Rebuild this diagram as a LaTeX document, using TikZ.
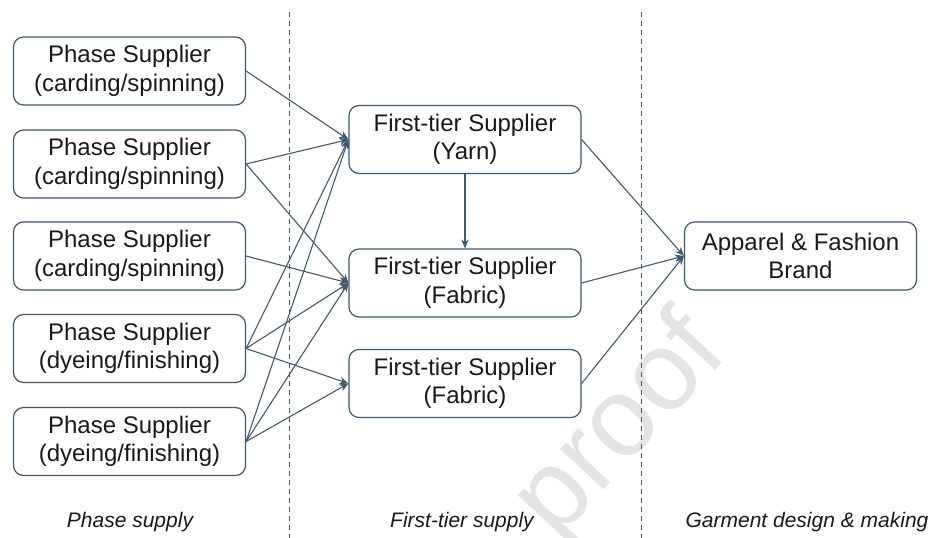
\documentclass[tikz,border=0pt]{standalone}
\usepackage{fontspec}
\setmainfont{Liberation Sans}
\usetikzlibrary{arrows.meta}
\definecolor{linec}{RGB}{66,88,108}
\definecolor{wmark}{RGB}{228,228,228}
\tikzset{
  box/.style={draw=linec, line width=1.2pt, rounded corners=10pt, minimum width=232pt,
    minimum height=68pt, inner sep=0pt, align=center, text=black!90,
    font=\fontsize{24}{28.5}\selectfont},
  conn/.style={draw=linec, line width=1.1pt, -{Stealth[length=9pt,width=7.5pt]}},
  sep/.style={draw=linec, line width=1pt, dash pattern=on 5pt off 4pt},
  phase/.style={font=\fontsize{21}{25}\selectfont\itshape, text=black!90, inner sep=0pt},
  wm/.style={font=\fontsize{112}{120}\selectfont, text=wmark, inner sep=0pt}
}
\begin{document}
\begin{tikzpicture}[x=1pt,y=-1pt]
\useasboundingbox (0,0) rectangle (930,538);
% watermark
\node[wm, rotate=47] (wmk) at (622,428) {proof};
% separators
\coordinate (s1t) at (289,12); \coordinate (s1b) at (289,538);
\coordinate (s2t) at (641,12); \coordinate (s2b) at (641,538);
\draw[sep] (s1t) -- (s1b);
\draw[sep] (s2t) -- (s2b);
% left column
\node[box] (L1) at (129.5,71) {Phase Supplier\\(carding/spinning)};
\node[box] (L2) at (129.5,164) {Phase Supplier\\(carding/spinning)};
\node[box] (L3) at (129.5,256) {Phase Supplier\\(carding/spinning)};
\node[box] (L4) at (129.5,348.5) {Phase Supplier\\(dyeing/finishing)};
\node[box] (L5) at (129.5,441.5) {Phase Supplier\\(dyeing/finishing)};
% middle column
\node[box] (M1) at (465,139.5) {First-tier Supplier\\(Yarn)};
\node[box] (M2) at (465,283) {First-tier Supplier\\(Fabric)};
\node[box] (M3) at (465,383.5) {First-tier Supplier\\(Fabric)};
% right
\node[box] (B) at (800.5,256) {Apparel \& Fashion\\Brand};
% connectors
\draw[conn] (L1.east) -- (M1.west);
\draw[conn] (L2.east) -- (M1.west);
\draw[conn] (L2.east) -- (M2.west);
\draw[conn] (L3.east) -- (M2.west);
\draw[conn] (L4.east) -- (M1.west);
\draw[conn] (L4.east) -- (M2.west);
\draw[conn] (L4.east) -- (M3.west);
\draw[conn] (L5.east) -- (M1.west);
\draw[conn] (L5.east) -- (M2.west);
\draw[conn] (L5.east) -- (M3.west);
\draw[conn] (M1.south) -- (M2.north);
\draw[conn] (M1.east) -- (B.west);
\draw[conn] (M2.east) -- (B.west);
\draw[conn] (M3.east) -- (B.west);
% phase labels
\node[phase] (p1) at (130,522) {Phase supply};
\node[phase] (p2) at (462,522) {First-tier supply};
\node[phase] (p3) at (807,522) {Garment design \& making};
\end{tikzpicture}
\end{document}
